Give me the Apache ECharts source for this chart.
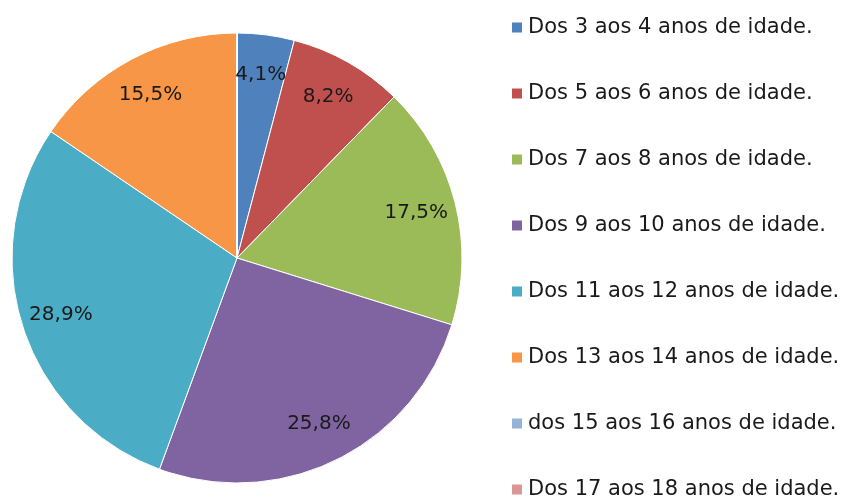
<!DOCTYPE html>
<html>
<head>
<meta charset="utf-8">
<script src="https://cdn.jsdelivr.net/npm/echarts@6/dist/echarts.min.js"></script>
<style>
  html, body { margin: 0; padding: 0; background: #fff; }
  #chart { width: 843px; height: 503px; }
</style>
</head>
<body>
<div id="chart"></div>
<script>
// faixas etárias e percentagens
const categories = [
  'Dos 3 aos 4 anos de idade.',
  'Dos 5 aos 6 anos de idade.',
  'Dos 7 aos 8 anos de idade.',
  'Dos 9 aos 10 anos de idade.',
  'Dos 11 aos 12 anos de idade.',
  'Dos 13 aos 14 anos de idade.',
  'dos 15 aos 16 anos de idade.',
  'Dos 17 aos 18 anos de idade.'
]
const values = [4.1, 8.2, 17.5, 25.8, 28.9, 15.5, 0, 0]
const colors = ['#4F81BD', '#C0504D', '#9BBB59', '#8064A2', '#4BACC6', '#F79646', '#95B3D7', '#D99694']

const pieData = categories.map((name, i) => ({ name, value: values[i] }))

const fontFamily = '"DejaVu Sans", sans-serif'
const center = [237, 258]

const chart = echarts.init(document.getElementById('chart'))
chart.setOption({
  animation: false,
  color: colors,
  legend: {
    orient: 'vertical',
    left: 510,
    top: 17,
    height: 486,
    padding: 0,
    itemWidth: 12,
    itemHeight: 12,
    itemGap: 45,
    icon: 'rect',
    textStyle: { fontFamily, fontSize: 21, color: '#1a1a1a' },
    data: categories
  },
  series: [
    {
      // fatias
      type: 'pie',
      center,
      radius: [0, 225],
      startAngle: 90,
      clockwise: true,
      label: { show: false },
      labelLine: { show: false },
      emphasis: { disabled: true },
      itemStyle: { borderColor: '#fff', borderWidth: 1 },
      data: pieData
    },
    {
      // rótulos (anel transparente para posicionar o texto)
      type: 'pie',
      center,
      radius: [139, 225],
      startAngle: 90,
      clockwise: true,
      silent: true,
      legendHoverLink: false,
      itemStyle: { color: 'rgba(0,0,0,0)', borderWidth: 0 },
      emphasis: { disabled: true },
      labelLine: { show: false },
      label: {
        show: true,
        position: 'inside',
        fontFamily,
        fontSize: 20,
        color: '#1a1a1a',
        formatter: p => p.value > 0 ? p.value.toFixed(1).replace('.', ',') + '%' : ''
      },
      data: pieData
    }
  ]
})
</script>
</body>
</html>
